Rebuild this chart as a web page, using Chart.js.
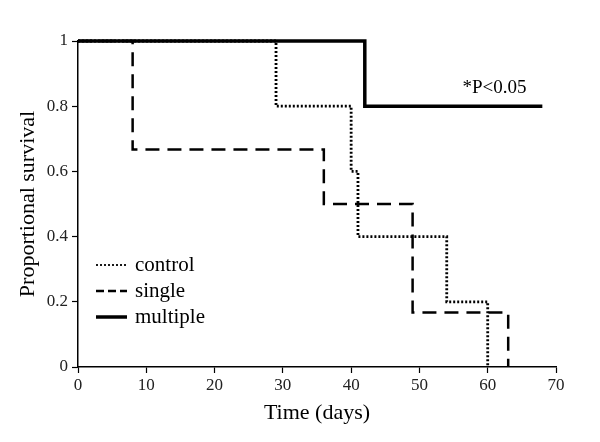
<!DOCTYPE html>
<html>
<head>
<meta charset="utf-8">
<script src="https://cdn.jsdelivr.net/npm/chart.js@4/dist/chart.umd.min.js"></script>
<style>
  html, body { margin: 0; padding: 0; background: #fff; }
  #wrap { width: 600px; height: 442px; }
</style>
</head>
<body>
<div id="wrap"><canvas id="survival" width="600" height="442"></canvas></div>
<script>
// survival curves (days, proportion)
const controlDays = [0, 29, 40, 41, 54, 60];
const controlSurv = [1, 0.8, 0.6, 0.4, 0.2, 0];
const singleDays = [0, 8, 36, 49, 63];
const singleSurv = [1, 0.667, 0.5, 0.167, 0];
const multipleDays = [0, 42, 68];
const multipleSurv = [1, 0.8, 0.8];

const seriesNames = ['control', 'single', 'multiple'];
const xTicks = [0, 10, 20, 30, 40, 50, 60, 70];
const yTicks = [0, 0.2, 0.4, 0.6, 0.8, 1];
const note = '*P<0.05';

const serif = '"Liberation Serif", "DejaVu Serif", serif';

const pts = (xs, ys) => xs.map((x, i) => ({ x: x, y: ys[i] }));

const styles = [
  { borderWidth: 2.8, borderDash: [2, 2] },
  { borderWidth: 2.5, borderDash: [14, 8] },
  { borderWidth: 3.5, borderDash: [] }
];

// legend drawn inside the plot, lower left
const insideLegend = {
  id: 'insideLegend',
  afterDatasetsDraw(chart) {
    const ctx = chart.ctx;
    const a = chart.chartArea;
    ctx.save();
    ctx.font = '21px ' + serif;
    ctx.fillStyle = '#000';
    ctx.textBaseline = 'middle';
    seriesNames.forEach((name, i) => {
      const y = a.top + 224 + i * 26;
      const x0 = a.left + 18;
      ctx.strokeStyle = '#000';
      ctx.lineWidth = i === 0 ? 1.8 : styles[i].borderWidth;
      ctx.setLineDash(i === 1 ? [8, 4] : styles[i].borderDash);
      ctx.beginPath();
      ctx.moveTo(x0, y);
      ctx.lineTo(x0 + 31, y);
      ctx.stroke();
      ctx.setLineDash([]);
      ctx.fillText(name, x0 + 39, y);
    });
    // p-value note above the multiple curve
    const xs = chart.scales.x, ys = chart.scales.y;
    ctx.font = '19px ' + serif;
    ctx.textAlign = 'center';
    ctx.fillText(note, xs.getPixelForValue(61), ys.getPixelForValue(0.857));
    ctx.restore();
  }
};

new Chart(document.getElementById('survival').getContext('2d'), {
  type: 'line',
  data: {
    datasets: [
      { label: seriesNames[0], data: pts(controlDays, controlSurv) },
      { label: seriesNames[1], data: pts(singleDays, singleSurv) },
      { label: seriesNames[2], data: pts(multipleDays, multipleSurv) }
    ].map((d, i) => Object.assign(d, styles[i], {
      borderColor: '#000',
      backgroundColor: '#000',
      stepped: true,
      pointRadius: 0,
      fill: false,
      borderCapStyle: 'butt',
      borderJoinStyle: 'miter',
      clip: false
    }))
  },
  options: {
    responsive: false,
    animation: false,
    layout: { padding: { left: 15, top: 41, right: 44, bottom: 16 } },
    plugins: {
      legend: { display: false },
      tooltip: { enabled: false }
    },
    scales: {
      x: {
        type: 'linear',
        min: 0,
        max: 70,
        afterBuildTicks: s => { s.ticks = xTicks.map(v => ({ value: v })); },
        afterFit: s => { s.height = 59; },
        grid: { drawOnChartArea: false, drawTicks: true, tickLength: 6, tickColor: '#000', tickWidth: 1.2 },
        border: { display: true, color: '#000', width: 1.5 },
        ticks: { color: '#222', font: { family: serif, size: 17 }, padding: 2, maxRotation: 0, callback: v => String(v) },
        title: { display: true, text: 'Time (days)', color: '#000', font: { family: serif, size: 22 }, padding: { top: 4, bottom: 0 } }
      },
      y: {
        type: 'linear',
        min: 0,
        max: 1,
        afterBuildTicks: s => { s.ticks = yTicks.map(v => ({ value: v })); },
        afterFit: s => { s.width = 63; },
        grid: { drawOnChartArea: false, drawTicks: true, tickLength: 6, tickColor: '#000', tickWidth: 1.2 },
        border: { display: true, color: '#000', width: 1.5 },
        ticks: { color: '#222', font: { family: serif, size: 17 }, padding: 4, callback: v => String(v) },
        title: { display: true, text: 'Proportional survival', color: '#000', font: { family: serif, size: 22 }, padding: { top: 0, bottom: 0 } }
      }
    }
  },
  plugins: [insideLegend]
});
</script>
</body>
</html>
